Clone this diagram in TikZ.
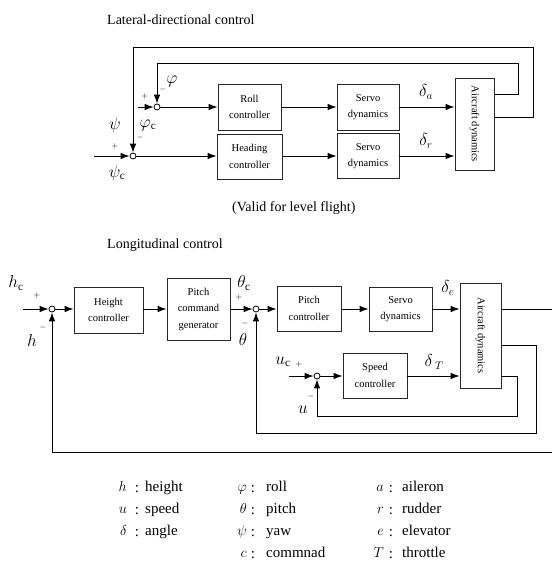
\documentclass[tikz,border=0pt]{standalone}
\usepackage{fontspec}
\setmainfont{Liberation Serif}
\usetikzlibrary{arrows.meta}
\begin{document}
\begin{tikzpicture}[x=1pt,y=-1pt,
  blk/.style={draw=black!85,line width=0.8pt,align=center,inner sep=0pt,
    font=\fontsize{10.5}{16.5}\selectfont},
  sumj/.style={draw,circle,line width=0.8pt,minimum size=6pt,inner sep=0pt,fill=white},
  arr/.style={line width=0.9pt,-{Latex[length=9pt,width=6.5pt]}},
  ln/.style={line width=0.9pt},
  lbl/.style={inner sep=0pt,font=\fontsize{16}{18}\selectfont},
  sgn/.style={inner sep=0pt,font=\fontsize{8}{9}\selectfont},
  ttl/.style={inner sep=0pt,anchor=west,font=\fontsize{14}{16}\selectfont},
  lg/.style={inner sep=0pt,anchor=base west,font=\fontsize{15}{17}\selectfont},
  lgs/.style={inner sep=0pt,anchor=base east,font=\fontsize{15}{17}\selectfont},
  lgc/.style={inner sep=0pt,anchor=base,font=\fontsize{15}{17}\selectfont}]
\useasboundingbox (0,0) rectangle (552,561);

% ---------------- Lateral-directional ----------------
\node[ttl] (t1) at (107,20) {Lateral-directional control};
\node[blk,minimum width=63pt,minimum height=46pt] (roll) at (249.5,107) {Roll\\controller};
\node[blk,minimum width=65pt,minimum height=45pt] (head) at (249.5,156.5) {Heading\\controller};
\node[blk,minimum width=62pt,minimum height=46pt] (sv1) at (368,107) {Servo\\dynamics};
\node[blk,minimum width=62pt,minimum height=45pt] (sv2) at (368,156) {Servo\\dynamics};
\node[blk,minimum width=39pt,minimum height=92pt] (air1) at (474.5,124) {};
\node[rotate=-90,inner sep=0pt,font=\fontsize{10.5}{12}\selectfont] (air1t) at (air1.center) {Aircraft dynamics};
\node[sumj] (rsum) at (157,107) {};
\node[sumj] (hsum) at (133,156) {};

\coordinate (in1) at (138,107);
\coordinate (in2) at (94,156);
\draw[arr] (in1) -- (rsum.west);
\draw[arr] (in2) -- (hsum.west);
\draw[arr] (rsum.east) -- (roll.west |- rsum);
\draw[arr] (hsum.east) -- (head.west |- hsum);
\draw[arr] (roll.east) -- (sv1.west |- roll.east);
\draw[arr] (head.east |- hsum) -- (sv2.west |- hsum);
\draw[arr] (sv1.east) -- (air1.west |- sv1.east);
\draw[arr] (sv2.east |- hsum) -- (air1.west |- hsum);

\coordinate (l1) at (518,94);
\coordinate (l2) at (518,63);
\coordinate (l3) at (533,117);
\coordinate (l4) at (533,47);
\draw[arr] (air1.east |- l1) -- (l1) -- (l2) -| (rsum.north);
\draw[arr] (air1.east |- l3) -- (l3) -- (l4) -| (hsum.north);

\node[lbl] (phi) at (172,81) {$\varphi$};
\node[sgn] (m1) at (163,90) {$-$};
\node[sgn] (p1) at (145,97) {$+$};
\node[lbl] (phic) at (148,125) {$\varphi_{\mathrm{c}}$};
\node[lbl] (psi) at (115,125) {$\psi$};
\node[sgn] (m2) at (140,138) {$-$};
\node[sgn] (p2) at (115,147) {$+$};
\node[lbl] (psic) at (117,173) {$\psi_{\mathrm{c}}$};
\node[lbl] (da) at (426,92) {$\delta_a$};
\node[lbl] (dr) at (426,141) {$\delta_r$};
\node[ttl] (valid) at (232,208) {(Valid for level flight)};

% ---------------- Longitudinal ----------------
\node[ttl] (t2) at (107,245) {Longitudinal control};
\node[blk,minimum width=69pt,minimum height=46pt] (hc) at (108.5,310) {Height\\controller};
\node[blk,minimum width=63pt,minimum height=62pt] (pcg) at (198.5,309) {Pitch\\command\\generator};
\node[blk,minimum width=64pt,minimum height=45pt] (pc) at (309,308.5) {Pitch\\controller};
\node[blk,minimum width=63pt,minimum height=44pt] (sv3) at (400.5,309) {Servo\\dynamics};
\node[blk,minimum width=41pt,minimum height=105pt] (air2) at (480.5,335.5) {};
\node[rotate=-90,inner sep=0pt,font=\fontsize{10.5}{12}\selectfont] (air2t) at (air2.center) {Aircraft dynamics};
\node[blk,minimum width=64pt,minimum height=45pt] (spc) at (375,375.5) {Speed\\controller};
\node[sumj] (hs) at (52,309) {};
\node[sumj] (ts) at (256,309) {};
\node[sumj] (ss) at (317,376) {};

\coordinate (in3) at (23,309);
\coordinate (in4) at (289,376);
\draw[arr] (in3) -- (hs.west);
\draw[arr] (hs.east) -- (hc.west |- hs);
\draw[arr] (hc.east |- hs) -- (pcg.west |- hs);
\draw[arr] (pcg.east |- ts) -- (ts.west);
\draw[arr] (ts.east) -- (pc.west |- ts);
\draw[arr] (pc.east |- ts) -- (sv3.west |- ts);
\draw[arr] (sv3.east |- ts) -- (air2.west |- ts);
\draw[arr] (in4) -- (ss.west);
\draw[arr] (ss.east) -- (spc.west |- ss);
\draw[arr] (spc.east |- ss) -- (air2.west |- ss);

\coordinate (o1) at (552,309);
\coordinate (o2) at (552,452);
\coordinate (q1) at (536,345);
\coordinate (q2) at (536,433);
\coordinate (s1) at (517,376);
\coordinate (s2) at (517,416);
\draw[ln] (air2.east |- o1) -- (o1);
\draw[arr] (o2) -| (hs.south);
\draw[arr] (air2.east |- q1) -- (q1) -- (q2) -| (ts.south);
\draw[arr] (air2.east |- s1) -- (s1) -- (s2) -| (ss.south);

\node[lbl] (hcl) at (16,283) {$h_{\mathrm{c}}$};
\node[sgn] (p3) at (37,295) {$+$};
\node[sgn] (m3) at (43,327) {$-$};
\node[lbl] (hl) at (32,340) {$h$};
\node[lbl] (thc) at (244,283) {$\theta_{\mathrm{c}}$};
\node[sgn] (p4) at (239,297) {$+$};
\node[sgn] (m4) at (245,323) {$-$};
\node[lbl] (th) at (243,339) {$\theta$};
\node[lbl] (de) at (448,288) {$\delta_e$};
\node[lbl] (dT) at (434,362) {$\delta_{\;T}$};
\node[lbl] (ucl) at (283,362) {$u_{\mathrm{c}}$};
\node[sgn] (p5) at (299,364) {$+$};
\node[sgn] (m5) at (311,396) {$-$};
\node[lbl] (ul) at (303,410) {$u$};

% ---------------- Legend ----------------
\node[lgs] (k1) at (127,491) {$h$};  \node[lgc] (c1) at (137,492) {:}; \node[lg] (w1) at (145,491) {height};
\node[lgs] (k2) at (127,513) {$u$};  \node[lgc] (c2) at (137,514) {:}; \node[lg] (w2) at (145,513) {speed};
\node[lgs] (k3) at (127,535) {$\delta$}; \node[lgc] (c3) at (137,536) {:}; \node[lg] (w3) at (145,535) {angle};
\node[lgs] (k4) at (247,491) {$\varphi$}; \node[lgc] (c4) at (253,492) {:}; \node[lg] (w4) at (266,491) {roll};
\node[lgs] (k5) at (247,513) {$\theta$}; \node[lgc] (c5) at (253,514) {:}; \node[lg] (w5) at (266,513) {pitch};
\node[lgs] (k6) at (247,535) {$\psi$}; \node[lgc] (c6) at (253,536) {:}; \node[lg] (w6) at (266,535) {yaw};
\node[lgs] (k7) at (247,557) {$c$}; \node[lgc] (c7) at (253,558) {:}; \node[lg] (w7) at (266,557) {commnad};
\node[lgs] (k8) at (384,491) {$a$}; \node[lgc] (c8) at (391,492) {:}; \node[lg] (w8) at (402,491) {aileron};
\node[lgs] (k9) at (384,513) {$r$}; \node[lgc] (c9) at (391,514) {:}; \node[lg] (w9) at (402,513) {rudder};
\node[lgs] (k10) at (384,535) {$e$}; \node[lgc] (c10) at (391,536) {:}; \node[lg] (w10) at (402,535) {elevator};
\node[lgs] (k11) at (384,557) {$T$}; \node[lgc] (c11) at (391,558) {:}; \node[lg] (w11) at (402,557) {throttle};
\end{tikzpicture}
\end{document}
